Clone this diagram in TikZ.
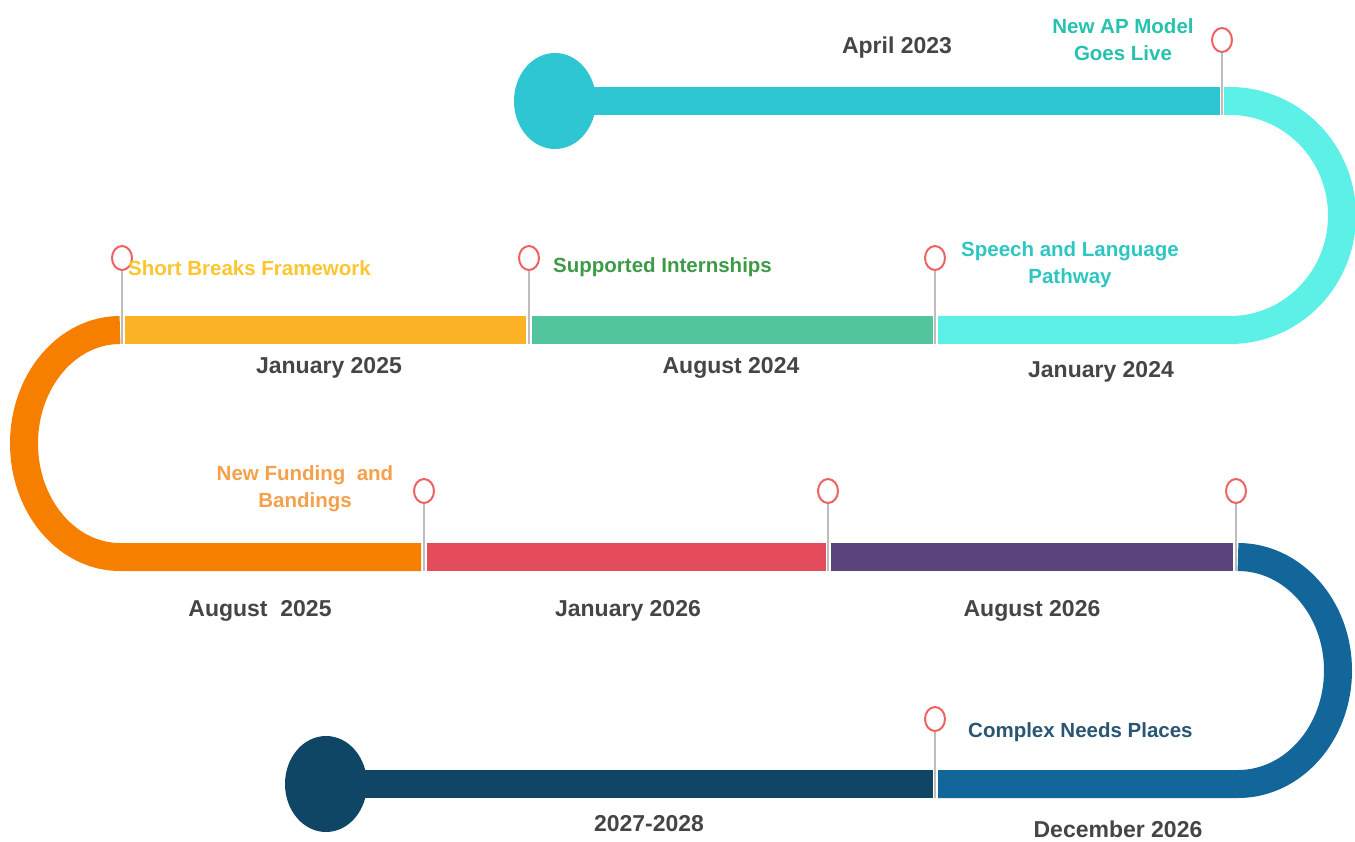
\documentclass[tikz,border=0pt]{standalone}
\usepackage{fontspec}
\setmainfont{Liberation Sans}
\usetikzlibrary{shapes.geometric}
\definecolor{tealA}{HTML}{2EC6D3}
\definecolor{cyanA}{HTML}{5CF0E6}
\definecolor{greenA}{HTML}{52C59C}
\definecolor{yellowA}{HTML}{FBB325}
\definecolor{orangeA}{HTML}{F77F00}
\definecolor{redA}{HTML}{E44B5B}
\definecolor{purpleA}{HTML}{5B437D}
\definecolor{blueA}{HTML}{136699}
\definecolor{navyA}{HTML}{0F4565}
\definecolor{pinred}{HTML}{F06262}
\definecolor{stemgray}{HTML}{BDBDBD}
\definecolor{dategray}{HTML}{454545}
\definecolor{lteal}{HTML}{26C2AE}
\definecolor{lteal2}{HTML}{2EC6C2}
\definecolor{lyellow}{HTML}{FDC52E}
\definecolor{lgreen}{HTML}{3D9A47}
\definecolor{lorange}{HTML}{F5A04A}
\definecolor{lnavy}{HTML}{2A5573}
\begin{document}
\begin{tikzpicture}[x=1pt,y=-1pt,
  band/.style={line width=28pt},
  pinhead/.style={ellipse, draw=pinred, line width=2pt, fill=white, minimum width=20pt, minimum height=24pt, inner sep=0pt},
  stem/.style={draw=stemgray, line width=2pt},
  datelab/.style={font=\bfseries\fontsize{23}{28}\selectfont, text=dategray, inner sep=0pt},
  lab/.style={font=\bfseries\fontsize{20.5}{27}\selectfont, align=center, inner sep=0pt}]
\useasboundingbox (0,0) rectangle (1355,842);

% row 1
\fill[tealA] (555,101) ellipse [x radius=41, y radius=48];
\draw[band, tealA] (555,101) -- (1220,101);
\draw[band, cyanA] (1224,101) -- (1230,101)
   arc[start angle=-90, end angle=90, x radius=112, y radius=114.5] -- (938,330);
% row 2
\draw[band, greenA] (532,330) -- (933,330);
\draw[band, yellowA] (125,330) -- (526,330);
\draw[band, orangeA] (120,330)
   arc[start angle=-90, end angle=-270, x radius=96, y radius=113.5] -- (421,557);
% row 3
\draw[band, redA] (427,557) -- (826,557);
\draw[band, purpleA] (831,557) -- (1233,557);
\draw[band, blueA] (1238,557)
   arc[start angle=-90, end angle=90, x radius=100, y radius=113.5] -- (938,784);
% row 4
\fill[navyA] (326,784) ellipse [x radius=41, y radius=48];
\draw[band, navyA] (326,784) -- (933,784);

% pins
\node[pinhead] (p1) at (1222,40) {};
\coordinate (b1) at (1222,115);
\node[pinhead] (p2) at (122,258) {};
\coordinate (b2) at (122,344);
\node[pinhead] (p3) at (529,258) {};
\coordinate (b3) at (529,344);
\node[pinhead] (p4) at (935,258) {};
\coordinate (b4) at (935,344);
\node[pinhead] (p5) at (424,491) {};
\coordinate (b5) at (424,571);
\node[pinhead] (p6) at (828,491) {};
\coordinate (b6) at (828,571);
\node[pinhead] (p7) at (1236,491) {};
\coordinate (b7) at (1236,571);
\node[pinhead] (p8) at (935,719) {};
\coordinate (b8) at (935,798);
\foreach \i in {1,...,8} { \draw[stem] (p\i.south) -- (b\i); }

% labels
\node[datelab] (d1) at (897,48) {April 2023};
\node[lab, text=lteal] (l1) at (1123,40) {New AP Model\\Goes Live};
\node[lab, text=lyellow, anchor=west] (l2) at (128,268) {Short Breaks Framework};
\node[lab, text=lgreen, anchor=west] (l3) at (553,267) {Supported Internships};
\node[lab, text=lteal2] (l4) at (1070,265) {Speech and Language\\Pathway};
\node[datelab] (d2) at (329,368) {January 2025};
\node[datelab] (d3) at (731,368) {August 2024};
\node[datelab] (d4) at (1101,372) {January 2024};
\node[lab, text=lorange] (l5) at (305,489) {New Funding\ \ and\\Bandings};
\node[datelab] (d5) at (260,611) {August\ \ 2025};
\node[datelab] (d6) at (628,611) {January 2026};
\node[datelab] (d7) at (1032,611) {August 2026};
\node[lab, text=lnavy, anchor=west] (l6) at (968,732) {Complex Needs Places};
\node[datelab] (d8) at (649,824) {2027-2028};
\node[datelab] (d9) at (1118,829) {December 2026};
\end{tikzpicture}
\end{document}
